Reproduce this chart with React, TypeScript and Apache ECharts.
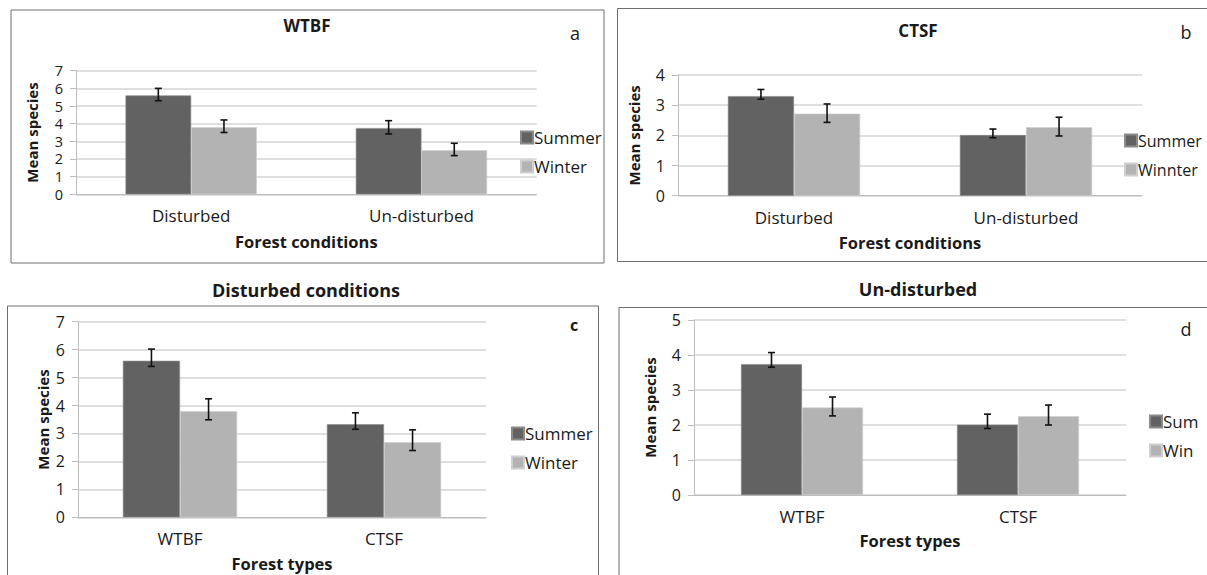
import React, { useEffect, useRef } from "react";
import * as echarts from "echarts";

// ---- Data ----
const condCats = ["Disturbed", "Un-disturbed"];
const typeCats = ["WTBF", "CTSF"];

// Panel a: WTBF
const aSummer = [5.6, 3.75];
const aWinter = [3.8, 2.5];
const aSummerLo = [5.3, 3.42];
const aSummerHi = [6.0, 4.17];
const aWinterLo = [3.5, 2.19];
const aWinterHi = [4.21, 2.89];

// Panel b: CTSF
const bSummer = [3.3, 2.01];
const bWinter = [2.72, 2.27];
const bSummerLo = [3.2, 1.92];
const bSummerHi = [3.52, 2.21];
const bWinterLo = [2.43, 1.98];
const bWinterHi = [3.04, 2.6];

// Panel c: Disturbed conditions
const cSummer = [5.6, 3.33];
const cWinter = [3.8, 2.69];
const cSummerLo = [5.4, 3.15];
const cSummerHi = [6.02, 3.74];
const cWinterLo = [3.49, 2.39];
const cWinterHi = [4.24, 3.13];

// Panel d: Un-disturbed
const dSummer = [3.74, 2.01];
const dWinter = [2.5, 2.25];
const dSummerLo = [3.65, 1.9];
const dSummerHi = [4.07, 2.31];
const dWinterLo = [2.26, 2.0];
const dWinterHi = [2.8, 2.57];

const SUMMER = "#626262";
const WINTER = "#b3b3b3";
const FONT = "'Open Sans', 'Liberation Sans', sans-serif";
const TXT = "#1a1a1a";

type Panel = {
  cats: string[];
  sum: number[];
  win: number[];
  sLo: number[];
  sHi: number[];
  wLo: number[];
  wHi: number[];
  sumName: string;
  winName: string;
  max: number;
  grid: { left: number; top: number; width: number; height: number };
  gap: number;
  xName: string;
  xNameGap: number;
  yNameGap: number;
  tickFont: number;
  legendFont: number;
  legend: { left: number; top: number };
};

const panels: Panel[] = [
  {
    cats: condCats, sum: aSummer, win: aWinter, sLo: aSummerLo, sHi: aSummerHi, wLo: aWinterLo, wHi: aWinterHi,
    sumName: "Summer", winName: "Winter", max: 7,
    grid: { left: 76, top: 70.7, width: 460.6, height: 123.6 }, gap: 0.43, xName: "Forest conditions",
    xNameGap: 39, yNameGap: 37, tickFont: 14.5, legendFont: 17,
    legend: { left: 520, top: 129 },
  },
  {
    cats: condCats, sum: bSummer, win: bWinter, sLo: bSummerLo, sHi: bSummerHi, wLo: bWinterLo, wHi: bWinterHi,
    sumName: "Summer", winName: "Winnter", max: 4,
    grid: { left: 678, top: 75, width: 464, height: 120.7 }, gap: 0.43, xName: "Forest conditions",
    xNameGap: 38, yNameGap: 37, tickFont: 16, legendFont: 16,
    legend: { left: 1124, top: 132 },
  },
  {
    cats: typeCats, sum: cSummer, win: cWinter, sLo: cSummerLo, sHi: cSummerHi, wLo: cWinterLo, wHi: cWinterHi,
    sumName: "Summer", winName: "Winter", max: 7,
    grid: { left: 78, top: 321.7, width: 408, height: 195.6 }, gap: 0.44, xName: "Forest types",
    xNameGap: 38, yNameGap: 28, tickFont: 16, legendFont: 17,
    legend: { left: 511, top: 425 },
  },
  {
    cats: typeCats, sum: dSummer, win: dWinter, sLo: dSummerLo, sHi: dSummerHi, wLo: dWinterLo, wHi: dWinterHi,
    sumName: "Sum", winName: "Win", max: 5,
    grid: { left: 694, top: 320, width: 432, height: 175 }, gap: 0.435, xName: "Forest types",
    xNameGap: 37, yNameGap: 37, tickFont: 16, legendFont: 17,
    legend: { left: 1149, top: 413 },
  },
];

export default function App() {
  const ref = useRef<HTMLDivElement>(null);
  useEffect(() => {
    if (!ref.current) return;
    const chart = echarts.init(ref.current, null, { renderer: "svg" });

    const grids: any[] = [];
    const xAxes: any[] = [];
    const yAxes: any[] = [];
    const series: any[] = [];
    const legends: any[] = [];

    panels.forEach((p, i) => {
      grids.push({ ...p.grid, containLabel: false });
      xAxes.push({
        type: "category",
        gridIndex: i,
        data: p.cats,
        axisLine: { show: true, lineStyle: { color: "#bdbdbd", width: 1 } },
        axisTick: { show: false },
        axisLabel: { color: TXT, fontSize: 17, fontFamily: FONT, margin: 13 },
        name: p.xName,
        nameLocation: "middle",
        nameGap: p.xNameGap,
        nameTextStyle: { color: TXT, fontSize: 16.5, fontWeight: "bold", fontFamily: FONT },
      });
      yAxes.push({
        type: "value",
        gridIndex: i,
        min: 0,
        max: p.max,
        interval: 1,
        axisLine: { show: true, lineStyle: { color: "#bdbdbd", width: 1 } },
        axisTick: { show: true, length: 6, lineStyle: { color: "#bdbdbd" } },
        splitLine: { show: true, lineStyle: { color: "#d4d4d4", width: 1.5 } },
        axisLabel: {
          color: TXT,
          fontSize: p.tickFont,
          lineHeight: Math.min(p.tickFont, 15),
          fontFamily: FONT,
          margin: 13,
        },
        name: "Mean species",
        nameLocation: "middle",
        nameGap: p.yNameGap,
        nameTextStyle: { color: TXT, fontSize: 15, fontWeight: "bold", fontFamily: FONT },
      });
      const gapPct = Math.round(p.gap * 1000) / 10 + "%";
      series.push({
        type: "bar",
        name: p.sumName,
        xAxisIndex: i,
        yAxisIndex: i,
        data: p.sum,
        barGap: "0%",
        barCategoryGap: gapPct,
        itemStyle: { color: SUMMER, borderColor: "#8a8a8a", borderWidth: 0.6 },
      });
      series.push({
        type: "bar",
        name: p.winName,
        xAxisIndex: i,
        yAxisIndex: i,
        data: p.win,
        barGap: "0%",
        barCategoryGap: gapPct,
        itemStyle: { color: WINTER, borderColor: "#cfcfcf", borderWidth: 0.6 },
      });
      const errData: number[][] = [];
      p.cats.forEach((_, k) => {
        errData.push([k, p.sLo[k], p.sHi[k], -1]);
        errData.push([k, p.wLo[k], p.wHi[k], 1]);
      });
      const gap = p.gap;
      series.push({
        type: "custom",
        name: "err" + i,
        xAxisIndex: i,
        yAxisIndex: i,
        data: errData,
        z: 10,
        encode: { x: 0, y: [1, 2] },
        renderItem: (params: any, api: any) => {
          const cat = api.value(0);
          const lo = api.value(1);
          const hi = api.value(2);
          const side = api.value(3);
          const band = api.size([1, 0])[0];
          const bw = (band * (1 - gap)) / 2;
          const xc = api.coord([cat, 0])[0] + (side * bw) / 2;
          const yLo = api.coord([cat, lo])[1];
          const yHi = api.coord([cat, hi])[1];
          const cap = 3.5;
          const st = { stroke: "#111", lineWidth: 1.6 };
          return {
            type: "group",
            children: [
              { type: "line", shape: { x1: xc, y1: yLo, x2: xc, y2: yHi }, style: st },
              { type: "line", shape: { x1: xc - cap, y1: yLo, x2: xc + cap, y2: yLo }, style: st },
              { type: "line", shape: { x1: xc - cap, y1: yHi, x2: xc + cap, y2: yHi }, style: st },
            ],
          };
        },
      });
      legends.push({
        orient: "vertical",
        left: p.legend.left,
        top: p.legend.top,
        data: [p.sumName, p.winName],
        icon: "rect",
        itemWidth: 12,
        itemHeight: 12,
        itemGap: 12,
        padding: 0,
        textStyle: {
          color: TXT,
          fontSize: p.legendFont,
          lineHeight: 17,
          fontFamily: FONT,
          padding: [0, 0, 0, -4],
        },
        selectedMode: false,
      });
    });

    const border = { fill: "none", stroke: "#6f6f6f", lineWidth: 1 };
    const title = (text: string, x: number, y: number, size: number, bold: boolean) => ({
      type: "text",
      x,
      y,
      style: {
        text,
        font: `${bold ? "bold " : ""}${size}px ${FONT}`,
        fill: TXT,
        textAlign: "center",
        textVerticalAlign: "middle",
      },
    });
    const graphic: any[] = [
      { type: "rect", shape: { x: 11, y: 10, width: 593, height: 253 }, style: border, silent: true },
      { type: "rect", shape: { x: 617.5, y: 8.5, width: 600, height: 253 }, style: border, silent: true },
      { type: "rect", shape: { x: 7.5, y: 306, width: 591, height: 280 }, style: border, silent: true },
      { type: "rect", shape: { x: 619, y: 307.5, width: 600, height: 280 }, style: border, silent: true },
      title("WTBF", 307, 25, 17, true),
      title("CTSF", 918, 30, 17, true),
      title("Disturbed conditions", 306, 290, 18, true),
      title("Un-disturbed", 918, 289, 18, true),
      title("a", 575, 33, 18, false),
      title("b", 1186, 32, 18, false),
      title("c", 574, 325, 16, true),
      title("d", 1186, 329, 18, false),
    ];

    chart.setOption({
      animation: false,
      backgroundColor: "#ffffff",
      grid: grids,
      xAxis: xAxes,
      yAxis: yAxes,
      series,
      legend: legends,
      graphic,
    });
    return () => chart.dispose();
  }, []);
  return (
    <div
      ref={ref}
      style={{ position: "fixed", left: 0, top: 0, width: 1207, height: 575, background: "#fff" }}
    />
  );
}
